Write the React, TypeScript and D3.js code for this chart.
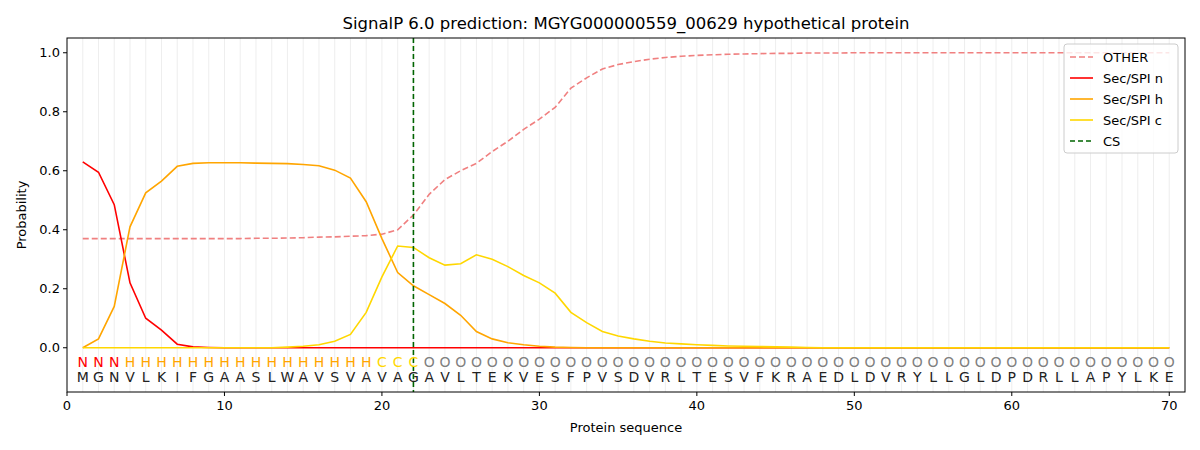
import React from 'react';
import * as d3 from 'd3';

const sequence = 'MGNVLKIFGAASLWAVSVAVAGAVLTEKVESFPVSDVRLTESVFKRAEDLDVRYLLGLDPDRLLAPYLKE'.split('');
const regionLabels = 'NNNHHHHHHHHHHHHHHHHCCC'.split('').concat(Array(48).fill('O'));

const otherProb = [0.37, 0.37, 0.37, 0.37, 0.37, 0.37, 0.37, 0.37, 0.37, 0.37, 0.37, 0.371, 0.371, 0.372, 0.373, 0.375, 0.376, 0.378, 0.38, 0.385, 0.4, 0.45, 0.52, 0.57, 0.6, 0.625, 0.665, 0.7, 0.74, 0.775, 0.815, 0.88, 0.915, 0.945, 0.96, 0.97, 0.978, 0.984, 0.988, 0.991, 0.993, 0.995, 0.996, 0.997, 0.998, 0.998, 0.999, 0.999, 0.999, 1, 1, 1, 1, 1, 1, 1, 1, 1, 1, 1, 1, 1, 1, 1, 1, 1, 1, 1, 1, 1];
const nProb = [0.63, 0.595, 0.485, 0.22, 0.1, 0.06, 0.012, 0.003, 0.001].concat(Array(61).fill(0));
const hProb = [0, 0.03, 0.14, 0.41, 0.525, 0.565, 0.615, 0.625, 0.627, 0.627, 0.627, 0.626, 0.625, 0.624, 0.621, 0.617, 0.602, 0.575, 0.495, 0.37, 0.255, 0.21, 0.18, 0.15, 0.11, 0.055, 0.03, 0.017, 0.01, 0.005, 0.002, 0.001].concat(Array(38).fill(0));
const cProb = [0, 0, 0, 0, 0, 0, 0, 0, 0, 0, 0, 0, 0, 0.002, 0.005, 0.01, 0.022, 0.045, 0.12, 0.24, 0.345, 0.34, 0.305, 0.28, 0.285, 0.315, 0.3, 0.275, 0.245, 0.22, 0.185, 0.12, 0.085, 0.055, 0.04, 0.03, 0.022, 0.016, 0.013, 0.01, 0.008, 0.006, 0.005, 0.004, 0.003, 0.002, 0.001].concat(Array(23).fill(0));
const yTicks = [0, 0.2, 0.4, 0.6, 0.8, 1.0];
const xTicks = [0, 10, 20, 30, 40, 50, 60, 70];
const csPos = 22;

const W = 1200, H = 450;
const L = 67, R = 1185, T = 38, B = 392;

const labelColor = (l: string) => (l === 'N' ? '#ff0000' : l === 'H' ? '#ffa500' : l === 'C' ? '#ffd700' : '#808080');

export default function App() {
  const x = d3.scaleLinear().domain([0, 71]).range([L, R]);
  const y = d3.scaleLinear().domain([-0.15, 1.05]).range([B, T]);
  const line = d3.line<number>().x((_, i) => x(i + 1)).y(d => y(d));
  const series = [
    { name: 'OTHER', data: otherProb, color: '#f08080', dash: '6,3' },
    { name: 'Sec/SPI n', data: nProb, color: '#ff0000', dash: '' },
    { name: 'Sec/SPI h', data: hProb, color: '#ffa500', dash: '' },
    { name: 'Sec/SPI c', data: cProb, color: '#ffd700', dash: '' },
  ];
  const legend = [...series, { name: 'CS', color: '#006400', dash: '5,3' }];
  const font = 'DejaVu Sans, sans-serif';
  return (
    <svg width={W} height={H} style={{ display: 'block', margin: -8 }} fontFamily={font}>
      <rect width={W} height={H} fill="#fff" />
      {sequence.map((_, i) => (
        <line key={i} x1={x(i + 1)} x2={x(i + 1)} y1={T} y2={B} stroke="#ebebeb" strokeWidth={1} opacity={0.8} />
      ))}
      {series.map(s => (
        <path key={s.name} d={line(s.data) || ''} fill="none" stroke={s.color} strokeWidth={1.6} strokeDasharray={s.dash} />
      ))}
      <line x1={x(csPos)} x2={x(csPos)} y1={T} y2={B} stroke="#006400" strokeWidth={1.6} strokeDasharray="5,3" />
      {sequence.map((a, i) => (
        <g key={i}>
          <text x={x(i + 1)} y={367} fontSize={14} textAnchor="middle" fill={labelColor(regionLabels[i])}>{regionLabels[i]}</text>
          <text x={x(i + 1)} y={382} fontSize={14} textAnchor="middle" fill="#222">{a}</text>
        </g>
      ))}
      <rect x={L} y={T} width={R - L} height={B - T} fill="none" stroke="#000" strokeWidth={1} />
      {yTicks.map(t => (
        <g key={t}>
          <line x1={L - 4} x2={L} y1={y(t)} y2={y(t)} stroke="#000" />
          <text x={L - 7} y={y(t) + 4.5} fontSize={13} textAnchor="end">{t.toFixed(1)}</text>
        </g>
      ))}
      {xTicks.map(t => (
        <g key={t}>
          <line x1={x(t)} x2={x(t)} y1={B} y2={B + 4} stroke="#000" />
          <text x={x(t)} y={B + 18} fontSize={13} textAnchor="middle">{t}</text>
        </g>
      ))}
      <text x={(L + R) / 2} y={432} fontSize={13} textAnchor="middle">Protein sequence</text>
      <text transform={`translate(26,${(T + B) / 2}) rotate(-90)`} fontSize={13} textAnchor="middle">Probability</text>
      <text x={(L + R) / 2} y={29} fontSize={16.5} textAnchor="middle">SignalP 6.0 prediction: MGYG000000559_00629 hypothetical protein</text>
      <g transform="translate(1064,44)">
        <rect width={114} height={109} rx={3} fill="#fff" fillOpacity={0.8} stroke="#ccc" />
        {legend.map((s, i) => (
          <g key={s.name} transform={`translate(6,${13 + i * 21})`}>
            <line x1={0} x2={23} y1={0} y2={0} stroke={s.color} strokeWidth={1.6} strokeDasharray={s.dash} />
            <text x={33} y={4.5} fontSize={13}>{s.name}</text>
          </g>
        ))}
      </g>
    </svg>
  );
}
